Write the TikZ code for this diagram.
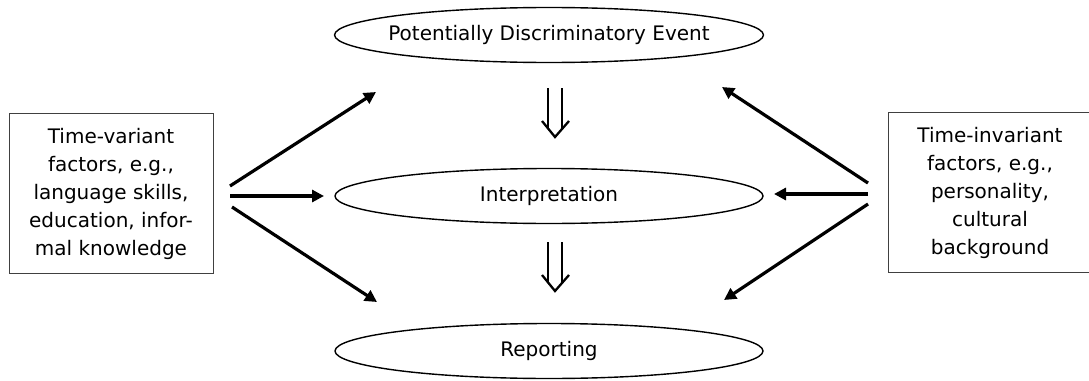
\documentclass[tikz,border=0pt]{standalone}
\usepackage{fontspec}
\setmainfont{DejaVu Sans}
\usetikzlibrary{arrows.meta,shapes.geometric}
\begin{document}
\begin{tikzpicture}[x=1pt,y=-1pt,
  txt/.style={font=\fontsize{20}{28}\selectfont},
  ell/.style={txt, ellipse, draw, line width=1.4pt, minimum width=428pt, minimum height=55pt, inner sep=0pt},
  sidebox/.style={txt, draw=black!75, line width=0.9pt, align=center, minimum height=160pt, minimum width=204pt, inner sep=0pt},
  arr/.style={line width=3.2pt, -{Triangle[length=12pt,width=12pt]}},
  dbl/.style={double, double distance=11.5pt, line width=2.3pt},
  vhead/.style={line width=2.3pt, line join=miter}]
\useasboundingbox (0,0) rectangle (1089,380);
\node[ell, inner xsep=-9pt] (E) at (549,35) {Potentially Discriminatory Event};
\node[ell] (I) at (549,196) {Interpretation};
\node[ell] (R) at (549,351) {Reporting};
\node[sidebox] (L) at (111,193.5) {Time-variant\\factors, e.g.,\\language skills,\\education, infor-\\mal knowledge};
\node[sidebox] (Rt) at (990,192.5) {Time-invariant\\factors, e.g.,\\personality,\\cultural\\background};
\coordinate (l1) at (230,186); \coordinate (l1e) at (376,92);
\coordinate (l2) at (230,196); \coordinate (l2e) at (324,196);
\coordinate (l3) at (232,207); \coordinate (l3e) at (377,302);
\coordinate (r1) at (868,183); \coordinate (r1e) at (722,87);
\coordinate (r2) at (868,194); \coordinate (r2e) at (774,194);
\coordinate (r3) at (868,204); \coordinate (r3e) at (724,300);
\draw[arr] (l1) -- (l1e);
\draw[arr] (l2) -- (l2e);
\draw[arr] (l3) -- (l3e);
\draw[arr] (r1) -- (r1e);
\draw[arr] (r2) -- (r2e);
\draw[arr] (r3) -- (r3e);
% double arrows
\coordinate (d1s) at (555,88); \coordinate (d1e) at (555,137);
\coordinate (d2s) at (555,242); \coordinate (d2e) at (555,291);
\draw[dbl] (d1s) -- ([yshift=9pt]d1e);
\draw[vhead] ([shift={(-13,-16)}]d1e) -- (d1e) -- ([shift={(14,-16)}]d1e);
\draw[dbl] (d2s) -- ([yshift=9pt]d2e);
\draw[vhead] ([shift={(-13,-16)}]d2e) -- (d2e) -- ([shift={(14,-16)}]d2e);
\end{tikzpicture}
\end{document}
